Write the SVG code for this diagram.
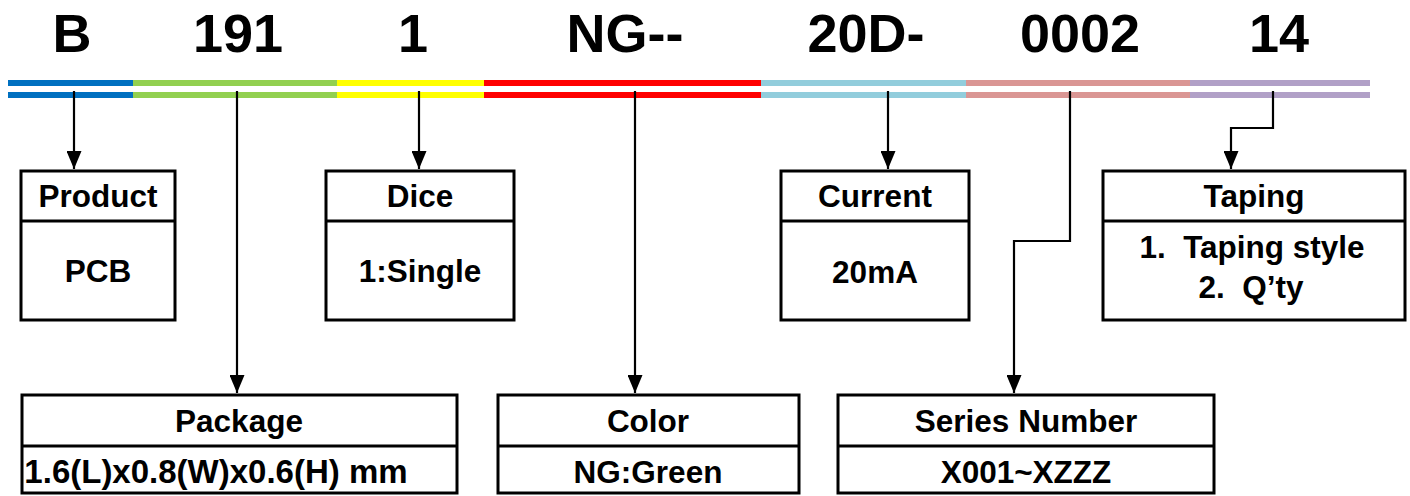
<svg xmlns="http://www.w3.org/2000/svg" width="1410" height="496" viewBox="0 0 1410 496">
<style>
.code{font-family:"Liberation Sans",Arial,sans-serif;font-weight:bold;font-size:54px;fill:#000;text-anchor:middle}
.t{font-family:"Liberation Sans",Arial,sans-serif;font-weight:bold;font-size:31.5px;fill:#000;text-anchor:middle}
.big{font-size:33px}
.box{fill:#fff;stroke:#000;stroke-width:3}
.div{stroke:#000;stroke-width:3}
.con{fill:none;stroke:#000;stroke-width:2.2;marker-end:url(#arr)}
</style>
<defs>
<marker id="arr" markerUnits="userSpaceOnUse" markerWidth="18" markerHeight="15" refX="18" refY="7.5" orient="auto">
<path d="M0,0 L18,7.5 L0,15 z" fill="#000"/>
</marker>
</defs>
<rect width="1410" height="496" fill="#fff"/>
<g id="codes">
<text class="code" x="72" y="52">B</text>
<text class="code" x="238" y="52">191</text>
<text class="code" x="413" y="52">1</text>
<text class="code" x="625" y="52">NG--</text>
<text class="code" x="866" y="52">20D-</text>
<text class="code" x="1080" y="52">0002</text>
<text class="code" x="1279" y="52">14</text>
</g>
<g id="bars">
<rect x="8" y="80" width="125" height="6" fill="#0070C0"/><rect x="8" y="92" width="125" height="6" fill="#0070C0"/>
<rect x="133" y="80" width="204" height="6" fill="#92D050"/><rect x="133" y="92" width="204" height="6" fill="#92D050"/>
<rect x="337" y="80" width="147" height="6" fill="#FFFF00"/><rect x="337" y="92" width="147" height="6" fill="#FFFF00"/>
<rect x="484" y="80" width="277" height="6" fill="#FF0000"/><rect x="484" y="92" width="277" height="6" fill="#FF0000"/>
<rect x="761" y="80" width="205" height="6" fill="#92CDDC"/><rect x="761" y="92" width="205" height="6" fill="#92CDDC"/>
<rect x="966" y="80" width="224" height="6" fill="#DA9694"/><rect x="966" y="92" width="224" height="6" fill="#DA9694"/>
<rect x="1190" y="80" width="180" height="6" fill="#B1A0C7"/><rect x="1190" y="92" width="180" height="6" fill="#B1A0C7"/>
</g>
<g id="connectors">
<path class="con" d="M74,91 V169"/>
<path class="con" d="M237,91 V393"/>
<path class="con" d="M419,91 V169"/>
<path class="con" d="M635,91 V393"/>
<path class="con" d="M888,91 V169"/>
<path class="con" d="M1070,91 V241 H1014 V393"/>
<path class="con" d="M1273,91 V128 H1231 V169"/>
</g>
<g id="product">
<rect class="box" x="21" y="171" width="154" height="149"/>
<line class="div" x1="21" y1="221" x2="175" y2="221"/>
<text class="t" x="98" y="207">Product</text>
<text class="t" x="98" y="282">PCB</text>
</g>
<g id="dice">
<rect class="box" x="326" y="171" width="188" height="149"/>
<line class="div" x1="326" y1="221" x2="514" y2="221"/>
<text class="t" x="420" y="207">Dice</text>
<text class="t" x="420" y="282">1:Single</text>
</g>
<g id="current">
<rect class="box" x="781" y="171" width="188" height="149"/>
<line class="div" x1="781" y1="221" x2="969" y2="221"/>
<text class="t" x="875" y="207">Current</text>
<text class="t" x="875" y="283">20mA</text>
</g>
<g id="taping">
<rect class="box" x="1103" y="171" width="302" height="149"/>
<line class="div" x1="1103" y1="221" x2="1405" y2="221"/>
<text class="t" x="1254" y="207">Taping</text>
<text class="t" x="1252" y="258" xml:space="preserve">1.  Taping style</text>
<text class="t" x="1251" y="298" xml:space="preserve">2.  Q’ty</text>
</g>
<g id="package">
<rect class="box" x="22" y="395" width="435" height="98"/>
<line class="div" x1="22" y1="446" x2="457" y2="446"/>
<text class="t" x="239" y="432">Package</text>
<text class="t big" x="216" y="483">1.6(L)x0.8(W)x0.6(H) mm</text>
</g>
<g id="color">
<rect class="box" x="498" y="395" width="301" height="98"/>
<line class="div" x1="498" y1="446" x2="799" y2="446"/>
<text class="t" x="648" y="432">Color</text>
<text class="t" x="648" y="483">NG:Green</text>
</g>
<g id="series">
<rect class="box" x="838" y="395" width="376" height="98"/>
<line class="div" x1="838" y1="446" x2="1214" y2="446"/>
<text class="t" x="1026" y="432">Series Number</text>
<text class="t" x="1026" y="483">X001~XZZZ</text>
</g>
</svg>
